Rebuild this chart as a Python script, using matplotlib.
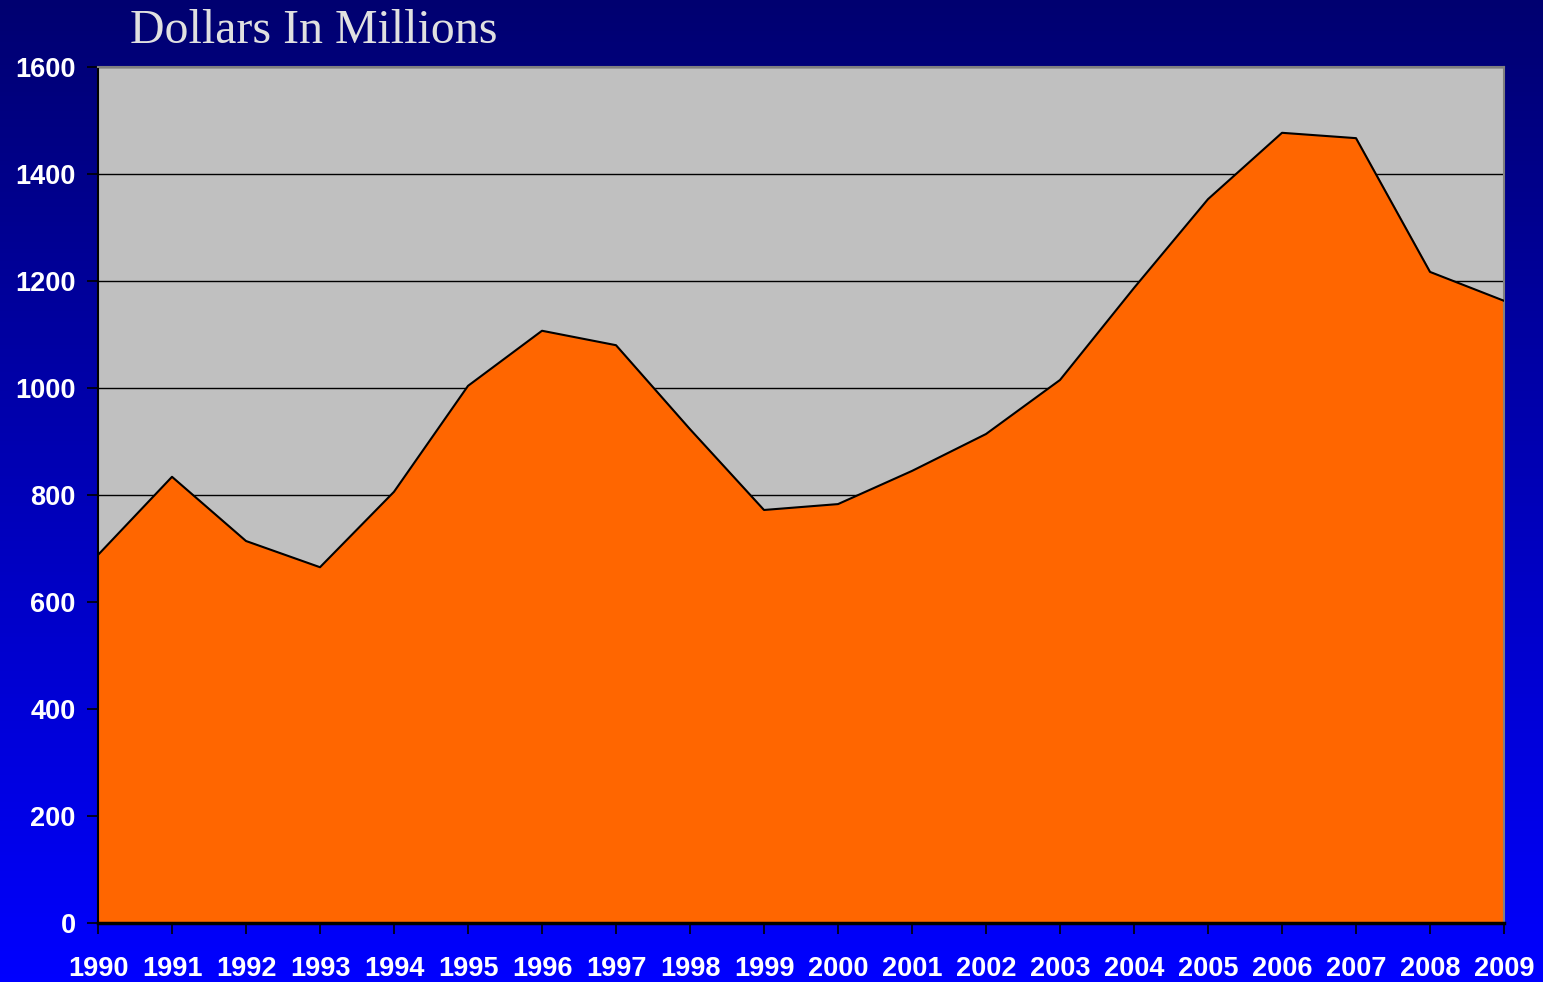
import matplotlib
matplotlib.use("Agg")
import matplotlib.pyplot as plt
import numpy as np

years = list(range(1990, 2010))
dollars = [688, 834, 714, 665, 806, 1004, 1107, 1080, 923, 772,
           783, 845, 914, 1015, 1187, 1353, 1477, 1467, 1217, 1163]
yticks = [0, 200, 400, 600, 800, 1000, 1200, 1400, 1600]

fig = plt.figure(figsize=(15.43, 9.82), dpi=100)

# background gradient, dark navy at top to bright blue at bottom
bg = fig.add_axes([0, 0, 1, 1], zorder=-10)
grad = np.linspace(0, 1, 256).reshape(-1, 1)
top = np.array([0x00, 0x00, 0x70]) / 255
bot = np.array([0x00, 0x00, 0xFF]) / 255
img = top + (bot - top) * grad[:, :, None]
bg.imshow(img, aspect="auto", extent=[0, 1, 0, 1], origin="upper")
bg.axis("off")

ax = fig.add_axes([98 / 1543, 1 - 923 / 982, (1504 - 98) / 1543, (923 - 67) / 982])
ax.set_facecolor("#C0C0C0")
ax.fill_between(years, dollars, 0, color="#FF6600", zorder=2)
ax.plot(years, dollars, color="black", lw=1.5, zorder=3)

ax.set_xlim(1990, 2009)
ax.set_ylim(0, 1600)
ax.set_xticks(years)
ax.set_yticks(yticks)
ax.yaxis.grid(True, color="black", lw=1)
ax.set_axisbelow(True)

ax.tick_params(axis="both", colors="black", labelcolor="white", direction="out", length=8, width=1.2)
ax.tick_params(axis="x", pad=16)
ax.tick_params(axis="y", pad=8)
for lab in ax.get_xticklabels() + ax.get_yticklabels():
    lab.set_fontfamily("Liberation Sans")
    lab.set_fontweight("bold")
    lab.set_fontsize(19.5)

for side in ["top", "right"]:
    ax.spines[side].set_color("#808080")
    ax.spines[side].set_linewidth(1.5)
ax.spines["left"].set_color("black")
ax.spines["bottom"].set_color("black")
ax.spines["left"].set_linewidth(1.5)
ax.spines["bottom"].set_linewidth(2.5)

fig.text(130 / 1543, 1 - 31 / 982, "Dollars In Millions", color="#E0E0E0",
         fontsize=34.5, family="Liberation Serif", va="center", ha="left")

fig.savefig("out.png", dpi=100, facecolor=fig.get_facecolor())
